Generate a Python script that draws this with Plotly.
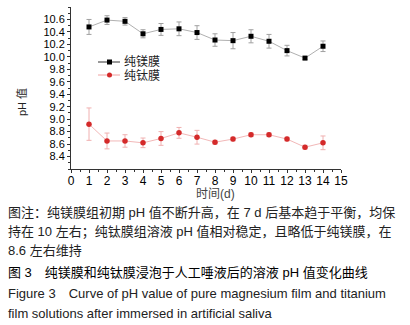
import plotly.graph_objects as go

days = list(range(1, 15))
mg_ph = [10.48, 10.59, 10.57, 10.37, 10.44, 10.45, 10.39, 10.27, 10.26, 10.33, 10.25, 10.10, 9.98, 10.17]
mg_err = [0.12, 0.07, 0.06, 0.065, 0.095, 0.11, 0.11, 0.10, 0.13, 0.105, 0.11, 0.085, 0.02, 0.085]
ti_ph = [8.92, 8.65, 8.65, 8.62, 8.69, 8.78, 8.71, 8.63, 8.68, 8.75, 8.75, 8.68, 8.55, 8.62]
ti_err = [0.26, 0.127, 0.10, 0.077, 0.11, 0.087, 0.11, 0.03, 0.03, 0.03, 0.03, 0.03, 0.03, 0.11]
series_names = ["纯镁膜", "纯钛膜"]
x_ticks = list(range(0, 16))
y_ticks = [8.4, 8.6, 8.8, 9.0, 9.2, 9.4, 9.6, 9.8, 10.0, 10.2, 10.4, 10.6]

caption_lines = [
    "图注：纯镁膜组初期 pH 值不断升高，在 7 d 后基本趋于平衡，均保",
    "持在 10 左右；纯钛膜组溶液 pH 值相对稳定，且略低于纯镁膜，在",
    "8.6 左右维持",
]
title_cn = "图 3　纯镁膜和纯钛膜浸泡于人工唾液后的溶液 pH 值变化曲线"
title_en = ["Figure 3　Curve of pH value of pure magnesium film and titanium",
            "film solutions after immersed in artificial saliva"]

W, H = 410, 325
L, R, T, B = 71, 341, 7, 169
FONT = "Liberation Sans, Arial, Noto Sans CJK SC"


def px(x):
    return (x - L) / (R - L)


def py(y):
    return (B - y) / (B - T)


fig = go.Figure()
fig.add_trace(go.Scatter(
    x=days, y=mg_ph, mode="lines+markers", name=series_names[0],
    line=dict(color="#b0b0b0", width=1),
    marker=dict(symbol="square", size=5, color="black"),
    error_y=dict(type="data", array=mg_err, color="#a0a0a0", thickness=1, width=2.5),
    showlegend=False))
fig.add_trace(go.Scatter(
    x=days, y=ti_ph, mode="lines+markers", name=series_names[1],
    line=dict(color="#f2b8b8", width=1),
    marker=dict(symbol="circle", size=5.5, color="#d42a2a"),
    error_y=dict(type="data", array=ti_err, color="#f0b0b0", thickness=1, width=2.5),
    showlegend=False))

shapes = []
annotations = []
# manual legend
for i, (nm, lc, mc, sym) in enumerate([(series_names[0], "#333333", "black", "rect"),
                                        (series_names[1], "#f0a0a0", "#d42a2a", "circle")]):
    yy = 62 + 13 * i
    shapes.append(dict(type="line", xref="paper", yref="paper", x0=px(98), x1=px(120),
                       y0=py(yy), y1=py(yy), line=dict(color=lc, width=1)))
    shapes.append(dict(type=sym, xref="paper", yref="paper", x0=px(107), x1=px(112),
                       y0=py(yy + 2.5), y1=py(yy - 2.5), fillcolor=mc, line=dict(color=mc, width=0)))
    annotations.append(dict(text=nm, xref="paper", yref="paper", x=px(122), y=py(yy),
                            xanchor="left", yanchor="middle", showarrow=False,
                            font=dict(family=FONT, size=12, color="#222")))

# axis titles
annotations.append(dict(text="pH 值", xref="paper", yref="paper", x=px(22), y=py(102),
                        textangle=-90, showarrow=False, xanchor="center", yanchor="middle",
                        font=dict(family=FONT, size=11, color="#222")))
annotations.append(dict(text="时间(d)", xref="paper", yref="paper", x=px(215), y=py(194),
                        showarrow=False, xanchor="center", yanchor="middle",
                        font=dict(family=FONT, size=12, color="#444")))

# captions
ys = [213, 231.5, 250]
for t, yy in zip(caption_lines, ys):
    annotations.append(dict(text=t, xref="paper", yref="paper", x=px(6), y=py(yy),
                            xanchor="left", yanchor="middle", showarrow=False,
                            font=dict(family=FONT, size=13, color="#222")))
annotations.append(dict(text=title_cn, xref="paper", yref="paper", x=px(6), y=py(272),
                        xanchor="left", yanchor="middle", showarrow=False,
                        font=dict(family=FONT, size=13, color="#000")))
for t, yy in zip(title_en, [293, 313]):
    annotations.append(dict(text=t, xref="paper", yref="paper", x=px(6), y=py(yy),
                            xanchor="left", yanchor="middle", showarrow=False,
                            font=dict(family=FONT, size=13, color="#222")))

fig.update_layout(
    width=W, height=H,
    margin=dict(l=L, r=W - R, t=T, b=H - B, pad=0),
    paper_bgcolor="white", plot_bgcolor="white",
    font=dict(family=FONT, size=12, color="black"),
    shapes=shapes, annotations=annotations,
    xaxis=dict(range=[0, 15], tickvals=x_ticks, ticktext=[str(v) for v in x_ticks],
               showline=True, linecolor="#333", linewidth=1, ticks="outside",
               ticklen=3, tickcolor="#333", showgrid=False, zeroline=False,
               automargin=False, ticklabelstandoff=-2,
               minor=dict(dtick=0.5, ticks="outside", ticklen=2, tickcolor="#333"),
               tickfont=dict(size=12, color="black")),
    yaxis=dict(range=[8.2, 10.8], tickvals=y_ticks, ticktext=[f"{v:.1f}" for v in y_ticks],
               showline=True, linecolor="#333", linewidth=1, ticks="outside",
               ticklen=3, tickcolor="#333", showgrid=False, zeroline=False,
               automargin=False,
               minor=dict(dtick=0.1, ticks="outside", ticklen=2, tickcolor="#333"),
               tickfont=dict(size=11, color="black")),
)

fig.write_html("out.html", config={"displayModeBar": False},
               post_script="document.body.style.margin='0';")
